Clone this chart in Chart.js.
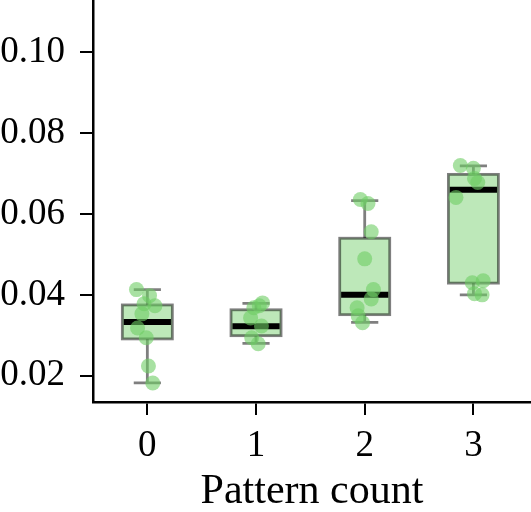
<!DOCTYPE html>
<html>
<head>
<meta charset="utf-8">
<script src="https://cdn.jsdelivr.net/npm/chart.js@4"></script>
<style>
  html, body { margin: 0; padding: 0; background: #fff; }
  #wrap { width: 531px; height: 512px; }
</style>
</head>
<body>
<div id="wrap"><canvas id="boxChart"></canvas></div>
<script>
// categories and box stats
const categories = [0, 1, 2, 3];
const whiskerLow = [0.0182, 0.0280, 0.0332, 0.0400];
const q1 = [0.0291, 0.0299, 0.0351, 0.0429];
const medians = [0.0333, 0.0322, 0.0400, 0.0660];
const q3 = [0.0375, 0.0363, 0.0540, 0.0698];
const whiskerHigh = [0.0413, 0.0379, 0.0633, 0.0719];

// individual points: values and their horizontal jitter
const pointValues = [
    [0.0413, 0.0398, 0.0378, 0.0373, 0.0353, 0.0318, 0.0294, 0.0224, 0.0182],
    [0.0380, 0.0373, 0.0368, 0.0343, 0.0323, 0.0294, 0.0279],
    [0.0636, 0.0626, 0.0556, 0.0489, 0.0413, 0.0390, 0.0368, 0.0348, 0.0331],
    [0.0720, 0.0713, 0.0688, 0.0678, 0.0641, 0.0435, 0.0430, 0.0403, 0.0400]
];
const pointJitter = [
    [-0.10, 0.02, -0.03, 0.07, -0.05, -0.09, -0.01, 0.01, 0.05],
    [0.06, 0.03, -0.02, -0.05, 0.05, -0.04, 0.02],
    [-0.04, 0.03, 0.06, 0.00, 0.08, 0.06, -0.07, -0.06, -0.02],
    [-0.12, 0.00, 0.01, 0.04, -0.16, 0.09, -0.01, 0.01, 0.08]
];
const yTicks = [0.02, 0.04, 0.06, 0.08, 0.10];

const fontFamily = "'Liberation Serif', 'DejaVu Serif', serif";
const tickFont = { family: fontFamily, size: 37 };
const titleFont = { family: fontFamily, size: 42, lineHeight: 0.95 };
const boxWidth = 0.46;
const capWidth = 0.25;

const scatterData = [];
categories.forEach((c, i) => {
    pointValues[i].forEach((v, j) => scatterData.push({ x: c + pointJitter[i][j], y: v }));
});

// draws boxes, whiskers and medians through the chart's scales
const boxPlugin = {
    id: 'boxes',
    beforeDatasetsDraw(chart) {
        const { ctx, scales: { x, y } } = chart;
        ctx.save();
        categories.forEach((c, i) => {
            const left = x.getPixelForValue(c - boxWidth / 2);
            const right = x.getPixelForValue(c + boxWidth / 2);
            const cx = x.getPixelForValue(c);
            const top = y.getPixelForValue(q3[i]);
            const bot = y.getPixelForValue(q1[i]);
            const capL = x.getPixelForValue(c - capWidth / 2);
            const capR = x.getPixelForValue(c + capWidth / 2);
            const wTop = y.getPixelForValue(whiskerHigh[i]);
            const wBot = y.getPixelForValue(whiskerLow[i]);

            ctx.strokeStyle = 'rgba(0,0,0,0.5)';
            ctx.lineWidth = 2.8;
            // whiskers
            ctx.beginPath();
            ctx.moveTo(cx, top); ctx.lineTo(cx, wTop);
            ctx.moveTo(cx, bot); ctx.lineTo(cx, wBot);
            ctx.moveTo(capL, wTop); ctx.lineTo(capR, wTop);
            ctx.moveTo(capL, wBot); ctx.lineTo(capR, wBot);
            ctx.stroke();
            // box
            ctx.fillStyle = '#bde8b9';
            ctx.fillRect(left, top, right - left, bot - top);
            ctx.strokeRect(left, top, right - left, bot - top);
            // median
            const m = y.getPixelForValue(medians[i]);
            ctx.strokeStyle = '#000';
            ctx.lineWidth = 6;
            ctx.beginPath();
            ctx.moveTo(left + 1.4, m); ctx.lineTo(right - 1.4, m);
            ctx.stroke();
        });
        ctx.restore();
    }
};

new Chart(document.getElementById('boxChart'), {
    type: 'scatter',
    data: {
        datasets: [{
            data: scatterData,
            backgroundColor: 'rgba(110,205,100,0.6)',
            borderWidth: 0,
            pointRadius: 7.5,
            pointHoverRadius: 7.5
        }]
    },
    plugins: [boxPlugin],
    options: {
        responsive: true,
        maintainAspectRatio: false,
        animation: false,
        layout: { padding: 0, autoPadding: false },
        plugins: { legend: { display: false }, tooltip: { enabled: false } },
        scales: {
            x: {
                type: 'linear',
                min: -0.5,
                max: 3.53,
                afterBuildTicks: (s) => { s.ticks = categories.map(v => ({ value: v })); },
                afterFit: (s) => { s.height = 110; s.paddingLeft = 0; s.paddingRight = 0; },
                grid: { drawOnChartArea: false, drawTicks: true, tickLength: 13, color: '#000', lineWidth: 2 },
                border: { color: '#000', width: 2.5 },
                ticks: { color: '#000', font: tickFont, padding: 9, maxRotation: 0 },
                title: { display: true, text: 'Pattern count', color: '#000', font: titleFont, padding: { top: 0, bottom: 0 } }
            },
            y: {
                min: 0.01349,
                max: 0.11294,
                afterBuildTicks: (s) => { s.ticks = yTicks.map(v => ({ value: v })); },
                afterFit: (s) => { s.width = 93; s.paddingTop = 0; s.paddingBottom = 0; },
                grid: { drawOnChartArea: false, drawTicks: true, tickLength: 13, color: '#000', lineWidth: 2 },
                border: { color: '#000', width: 2.5 },
                ticks: { color: '#000', font: tickFont, padding: 15, callback: (v) => v.toFixed(2) }
            }
        }
    }
});
</script>
</body>
</html>
